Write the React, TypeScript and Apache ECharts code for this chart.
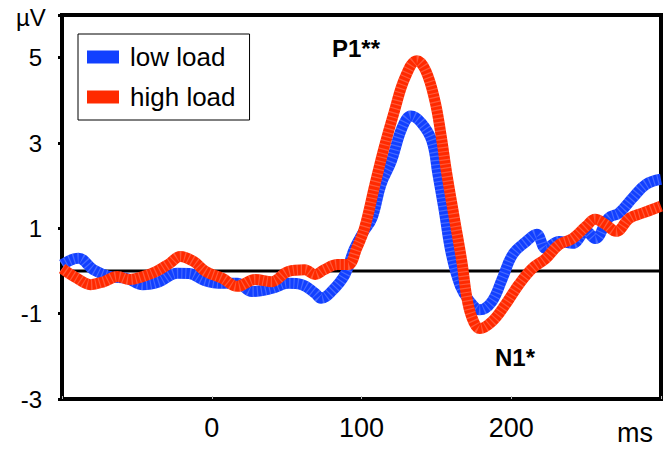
import React, { useEffect, useRef } from "react";
import * as echarts from "echarts";

const X_MIN = -100;
const X_MAX = 300;
const X_TICK_LABELS = [0, 100, 200];
const Y_MIN = -3;
const Y_MAX = 6;
const Y_TICKS = [-3, -1, 1, 3, 5];

const lowTimes = [-100, -89, -79, -68, -57, -46, -35, -23, -15, -5, 7, 17, 27, 40, 51, 60, 69, 73, 80, 89, 95, 101, 107, 113, 120, 127, 133, 140, 147, 151, 155, 160, 166, 172, 179, 187, 194, 201, 210, 217, 223, 232, 241, 250, 256, 265, 272, 281, 290, 300];
const lowValues = [0.15, 0.3, 0.03, -0.13, -0.17, -0.32, -0.25, -0.05, -0.06, -0.22, -0.29, -0.29, -0.48, -0.41, -0.29, -0.32, -0.52, -0.64, -0.48, -0.08, 0.5, 0.9, 1.24, 2.03, 2.58, 3.35, 3.63, 3.47, 3.05, 2.27, 1.47, 0.4, -0.35, -0.7, -0.91, -0.72, -0.18, 0.39, 0.69, 0.86, 0.53, 0.69, 0.65, 0.93, 0.76, 1.24, 1.36, 1.71, 2.03, 2.15];

const highTimes = [-100, -90, -81, -72, -63, -55, -46, -37, -28, -21, -12, -4, 7, 17, 29, 40, 51, 62, 69, 75, 84, 91, 97, 102, 109, 115, 122, 129, 137, 143, 149, 153, 157, 162, 167, 171, 175, 179, 187, 196, 205, 214, 223, 232, 241, 250, 256, 263, 270, 279, 288, 300];
const highValues = [0.06, -0.17, -0.32, -0.25, -0.13, -0.2, -0.13, -0.01, 0.18, 0.34, 0.22, -0.01, -0.17, -0.36, -0.2, -0.25, -0.01, 0.03, -0.08, 0.03, 0.15, 0.15, 0.55, 1.0, 2.03, 2.88, 3.75, 4.53, 4.93, 4.69, 3.99, 3.21, 2.27, 1.24, 0.22, -0.75, -1.2, -1.35, -1.19, -0.79, -0.32, 0.06, 0.29, 0.62, 0.76, 1.05, 1.21, 1.09, 0.93, 1.24, 1.36, 1.52];

const SERIES_NAMES = ["low load", "high load"];
const UNIT_Y = "µV";
const UNIT_X = "ms";
const PEAK_LABELS = ["P1**", "N1*"];

const FONT = "'Liberation Sans', Arial, sans-serif";
const BLUE = "#1240ff";
const RED = "#ff2a00";
const LINE_W = 11;

export default function App() {
  const ref = useRef<HTMLDivElement>(null);
  useEffect(() => {
    document.body.style.margin = "0";
    if (!ref.current) return;
    const chart = echarts.init(ref.current, null, { renderer: "svg" });
    const low = lowTimes.map((t, i) => [t, lowValues[i]]);
    const high = highTimes.map((t, i) => [t, highValues[i]]);
    const zero = [[X_MIN, 0], [X_MAX, 0]];
    const texture = (name: string, data: number[][], z: number) => ({
      name,
      type: "line",
      data,
      smooth: 0.4,
      symbol: "none",
      silent: true,
      lineStyle: { color: "rgba(255,255,255,0.22)", width: LINE_W, type: [1.2, 3] },
      z,
    });
    chart.setOption({
      animation: false,
      textStyle: { fontFamily: FONT },
      grid: {
        left: 62,
        right: 2,
        top: 15,
        bottom: 51,
        show: true,
        borderColor: "#000",
        borderWidth: 4,
        backgroundColor: "transparent",
      },
      xAxis: {
        type: "value",
        min: X_MIN,
        max: X_MAX,
        interval: 100,
        axisLine: { show: false, onZero: false },
        splitLine: { show: false },
        axisTick: { show: true, inside: true, length: 3, lineStyle: { color: "#bbb", width: 1 } },
        axisLabel: {
          fontSize: 27,
          color: "#000",
          margin: 15,
          fontFamily: FONT,
          formatter: (v: number) => (X_TICK_LABELS.includes(v) ? String(v) : ""),
        },
      },
      yAxis: {
        type: "value",
        min: Y_MIN,
        max: Y_MAX,
        interval: 2,
        axisLine: { show: false, onZero: false },
        splitLine: { show: false },
        axisTick: { show: true, length: 4, lineStyle: { color: "#000", width: 3 } },
        axisLabel: {
          fontSize: 24,
          color: "#000",
          margin: 20,
          fontFamily: FONT,
          formatter: (v: number) => (Y_TICKS.includes(v) ? String(v) : ""),
        },
      },
      legend: {
        orient: "vertical",
        left: 78,
        top: 34,
        data: SERIES_NAMES,
        icon: "rect",
        itemWidth: 32,
        itemHeight: 13,
        itemGap: 14,
        padding: [10, 14, 10, 9],
        borderColor: "#000",
        borderWidth: 1,
        textStyle: { fontSize: 26, color: "#000", fontFamily: FONT, padding: [0, 0, 0, 6] },
      },
      series: [
        {
          name: "zero",
          type: "line",
          data: zero,
          symbol: "none",
          silent: true,
          lineStyle: { color: "#000", width: 3 },
          z: 1,
        },
        {
          name: SERIES_NAMES[0],
          type: "line",
          data: low,
          smooth: 0.4,
          symbol: "none",
          color: BLUE,
          lineStyle: { color: BLUE, width: LINE_W },
          itemStyle: { color: BLUE },
          z: 2,
        },
        texture("low-texture", low, 3),
        {
          name: SERIES_NAMES[1],
          type: "line",
          data: high,
          smooth: 0.4,
          symbol: "none",
          color: RED,
          lineStyle: { color: RED, width: LINE_W },
          itemStyle: { color: RED },
          z: 4,
        },
        texture("high-texture", high, 5),
      ],
      graphic: [
        { type: "text", left: 16, top: 5, style: { text: UNIT_Y, fontSize: 24, fill: "#000", fontFamily: FONT } },
        { type: "text", left: 617, top: 419, style: { text: UNIT_X, fontSize: 27, fill: "#000", fontFamily: FONT } },
        { type: "text", left: 332, top: 36, style: { text: PEAK_LABELS[0], fontSize: 24, fontWeight: "bold", fill: "#000", fontFamily: FONT } },
        { type: "text", left: 495, top: 345, style: { text: PEAK_LABELS[1], fontSize: 24, fontWeight: "bold", fill: "#000", fontFamily: FONT } },
      ],
    });
    return () => chart.dispose();
  }, []);
  return <div ref={ref} style={{ width: 664, height: 450 }} />;
}
